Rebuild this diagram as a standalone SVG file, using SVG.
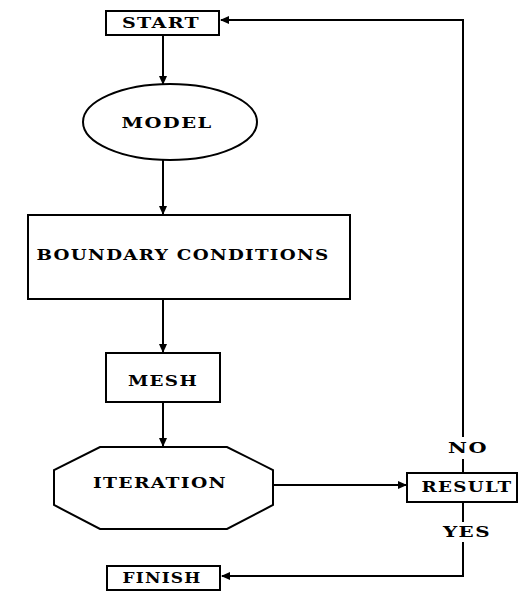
<svg xmlns="http://www.w3.org/2000/svg" width="531" height="591" viewBox="0 0 531 591">
<defs>
<marker id="arr" markerWidth="9" markerHeight="8" refX="8" refY="4" orient="auto" markerUnits="userSpaceOnUse">
<path d="M0,0 L9,4 L0,8 z" fill="#000"/>
</marker>
<style>
.shape{fill:#fff;stroke:#000;stroke-width:2}
.line{fill:none;stroke:#000;stroke-width:2}
.t{font-family:"DejaVu Serif","Liberation Serif",serif;font-weight:bold;font-size:14px;letter-spacing:1px;fill:#000;text-anchor:middle;dominant-baseline:central}
</style>
</defs>
<rect width="531" height="591" fill="#fff"/>
<g id="connectors">
<line class="line" x1="163" y1="35" x2="163" y2="84" marker-end="url(#arr)"/>
<line class="line" x1="163" y1="160" x2="163" y2="214" marker-end="url(#arr)"/>
<line class="line" x1="163" y1="299" x2="163" y2="352" marker-end="url(#arr)"/>
<line class="line" x1="163" y1="402" x2="163" y2="446" marker-end="url(#arr)"/>
<line class="line" x1="273" y1="485" x2="406" y2="485" marker-end="url(#arr)"/>
<polyline class="line" points="463,437 463,20 221,20" marker-end="url(#arr)"/>
<line class="line" x1="463" y1="459" x2="463" y2="473"/>
<line class="line" x1="463" y1="502" x2="463" y2="522"/>
<polyline class="line" points="463,542 463,576 222,576" marker-end="url(#arr)"/>
<text class="t" x="468" y="448" textLength="40" lengthAdjust="spacingAndGlyphs">NO</text>
<text class="t" x="467" y="532" textLength="48" lengthAdjust="spacingAndGlyphs">YES</text>
</g>
<g id="start">
<rect class="shape" x="106" y="11" width="113" height="24"/>
<text class="t" x="161" y="23" textLength="78" lengthAdjust="spacingAndGlyphs">START</text>
</g>
<g id="model">
<ellipse class="shape" cx="170" cy="122" rx="87" ry="38"/>
<text class="t" x="167" y="123" textLength="91" lengthAdjust="spacingAndGlyphs">MODEL</text>
</g>
<g id="boundary">
<rect class="shape" x="28" y="215" width="322" height="84"/>
<text class="t" x="183" y="255" textLength="293" lengthAdjust="spacingAndGlyphs">BOUNDARY CONDITIONS</text>
</g>
<g id="mesh">
<rect class="shape" x="106" y="353" width="114" height="49"/>
<text class="t" x="163" y="381" textLength="70" lengthAdjust="spacingAndGlyphs">MESH</text>
</g>
<g id="iteration">
<polygon class="shape" points="100,447 227,447 273,470 273,505 227,529 100,529 54,505 54,470"/>
<text class="t" x="160" y="483" textLength="134" lengthAdjust="spacingAndGlyphs">ITERATION</text>
</g>
<g id="result">
<rect class="shape" x="407" y="473" width="110" height="29"/>
<text class="t" x="467" y="487" textLength="91" lengthAdjust="spacingAndGlyphs">RESULT</text>
</g>
<g id="finish">
<rect class="shape" x="107" y="566" width="113" height="24"/>
<text class="t" x="162" y="578" textLength="79" lengthAdjust="spacingAndGlyphs">FINISH</text>
</g>
</svg>
